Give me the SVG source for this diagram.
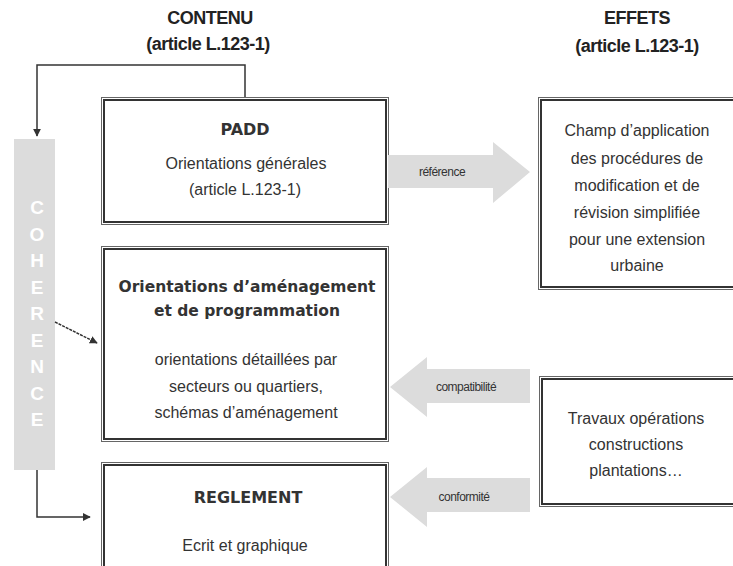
<svg xmlns="http://www.w3.org/2000/svg" width="733" height="566" viewBox="0 0 733 566">
<style>
.bo{fill:none;stroke:#666;stroke-width:1}
.bi{fill:none;stroke:#333;stroke-width:2}
.t{font-family:"Liberation Sans",Arial,sans-serif;font-size:16px;fill:#333;text-anchor:middle}
.tb{font-family:"DejaVu Sans",sans-serif;font-weight:bold;font-size:16px;fill:#333;text-anchor:middle}
.tb2{font-family:"DejaVu Sans",sans-serif;font-weight:bold;font-size:15.5px;fill:#333;text-anchor:middle}
.h{font-family:"Liberation Sans",Arial,sans-serif;font-weight:bold;font-size:18px;fill:#222;text-anchor:middle;letter-spacing:-0.5px}
.al{font-family:"Liberation Sans",Arial,sans-serif;font-size:12px;fill:#333;text-anchor:middle;letter-spacing:-0.5px}
.ga{fill:#dcdcdc}
.ln{fill:none;stroke:#333;stroke-width:1.5}
.co{font-family:"Liberation Sans",Arial,sans-serif;font-weight:bold;font-size:19px;fill:#fff;text-anchor:middle}
</style>
<defs>
<marker id="ah" viewBox="0 0 10 10" refX="9" refY="5" markerWidth="8" markerHeight="8" markerUnits="userSpaceOnUse" orient="auto">
<path d="M0,0 L10,5 L0,10 z" fill="#333"/>
</marker>
</defs>
<rect width="733" height="566" fill="#fff"/>
<g id="headers">
<text class="h" x="210" y="24">CONTENU</text>
<text class="h" x="208" y="50">(article L.123-1)</text>
<text class="h" x="637" y="24">EFFETS</text>
<text class="h" x="637" y="52">(article L.123-1)</text>
</g>
<g id="coherence">
<rect class="ga" x="14" y="139" width="41" height="331"/>
<text class="co" x="37" y="214">C</text>
<text class="co" x="37" y="240.5">O</text>
<text class="co" x="37" y="267">H</text>
<text class="co" x="37" y="293.5">E</text>
<text class="co" x="37" y="320">R</text>
<text class="co" x="37" y="346.5">E</text>
<text class="co" x="37" y="373">N</text>
<text class="co" x="37" y="399.5">C</text>
<text class="co" x="37" y="426">E</text>
</g>
<g id="padd">
<rect class="bo" x="101.5" y="97.5" width="287" height="127"/>
<rect class="bi" x="104" y="100" width="282" height="122"/>
<text class="tb" x="245" y="135">PADD</text>
<text class="t" x="246" y="169">Orientations générales</text>
<text class="t" x="245" y="195">(article L.123-1)</text>
</g>
<g id="oap">
<rect class="bo" x="101.5" y="246.5" width="287" height="195"/>
<rect class="bi" x="104" y="249" width="282" height="190"/>
<text class="tb2" x="247" y="292">Orientations d’aménagement</text>
<text class="tb2" x="247" y="316">et de programmation</text>
<text class="t" x="246" y="365">orientations détaillées par</text>
<text class="t" x="246" y="392">secteurs ou quartiers,</text>
<text class="t" x="246" y="418">schémas d’aménagement</text>
</g>
<g id="reglement">
<rect class="bo" x="101.5" y="462.5" width="287" height="120"/>
<rect class="bi" x="104" y="465" width="282" height="120"/>
<text class="tb" x="248" y="503">REGLEMENT</text>
<text class="t" x="245" y="551">Ecrit et graphique</text>
</g>
<g id="champ">
<rect class="bo" x="538.5" y="97.5" width="210" height="192"/>
<rect class="bi" x="541" y="100" width="210" height="187"/>
<text class="t" x="637" y="136">Champ d’application</text>
<text class="t" x="637" y="164">des procédures de</text>
<text class="t" x="637" y="191">modification et de</text>
<text class="t" x="637" y="218">révision simplifiée</text>
<text class="t" x="637" y="245">pour une extension</text>
<text class="t" x="637" y="271">urbaine</text>
</g>
<g id="travaux">
<rect class="bo" x="539.5" y="376.5" width="210" height="130"/>
<rect class="bi" x="542" y="379" width="210" height="125"/>
<text class="t" x="636" y="424">Travaux opérations</text>
<text class="t" x="636" y="450">constructions</text>
<text class="t" x="636" y="476">plantations…</text>
</g>
<g id="connectors">
<polyline class="ln" points="245,97 245,65 37,65 37,136" marker-end="url(#ah)"/>
<line x1="55" y1="322" x2="97" y2="343" stroke="#333" stroke-width="1.5" stroke-dasharray="3,1" marker-end="url(#ah)"/>
<polyline class="ln" points="37,470 37,517 90,517" marker-end="url(#ah)"/>
<g id="ref">
<polygon class="ga" points="388,155 493,155 493,142 530,172 493,203 493,188 388,188"/>
<text class="al" x="442" y="176">référence</text>
</g>
<g id="compat">
<polygon class="ga" points="530,369 427,369 427,357 390,387 427,417 427,403 530,403"/>
<text class="al" x="466" y="391">compatibilité</text>
</g>
<g id="conf">
<polygon class="ga" points="530,478 427,478 427,467 390,497 427,527 427,512 530,512"/>
<text class="al" x="464" y="501">conformité</text>
</g>
</g>
</svg>
